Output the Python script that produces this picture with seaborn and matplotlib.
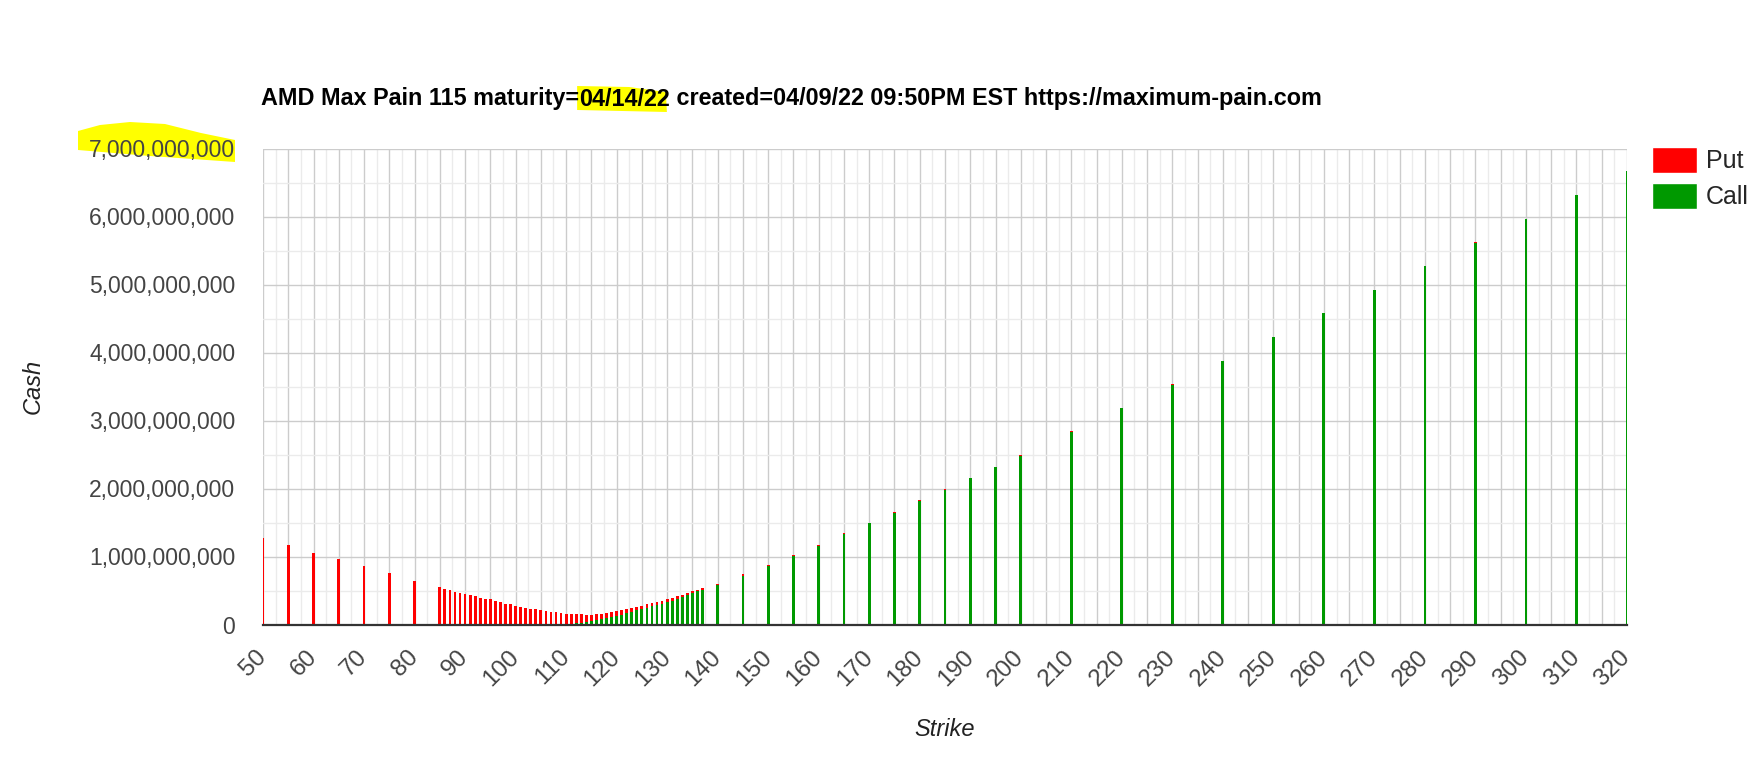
import pandas as pd
import matplotlib
matplotlib.use('Agg')
import matplotlib.pyplot as plt
import seaborn as sns
from matplotlib.ticker import MultipleLocator, FuncFormatter
from matplotlib.patches import Patch, Polygon

# strike prices
strikes = [50, 55, 60, 65, 70, 75, 80,
           85, 86, 87, 88, 89, 90, 91, 92, 93, 94, 95, 96, 97, 98, 99,
           100, 101, 102, 103, 104, 105, 106, 107, 108, 109, 110, 111, 112, 113, 114,
           115, 116, 117, 118, 119, 120, 121, 122, 123, 124, 125, 126, 127, 128, 129,
           130, 131, 132, 133, 134, 135, 136, 137, 140,
           145, 150, 155, 160, 165, 170, 175, 180, 185, 190, 195, 200,
           210, 220, 230, 240, 250, 260, 270, 280, 290, 300, 310, 320]

# put cash, in billions
put_bn = [1.265, 1.175, 1.057, 0.963, 0.856, 0.758, 0.646,
          0.548, 0.529, 0.506, 0.485, 0.462, 0.452, 0.436, 0.413, 0.393, 0.376, 0.370, 0.345, 0.325, 0.302, 0.295,
          0.279, 0.258, 0.250, 0.232, 0.226, 0.208, 0.201, 0.182, 0.174, 0.155, 0.150, 0.146, 0.142, 0.136, 0.106,
          0.084, 0.083, 0.076, 0.070, 0.068, 0.067, 0.066, 0.064, 0.057, 0.050, 0.049, 0.048, 0.046, 0.045, 0.044,
          0.042, 0.040, 0.036, 0.031, 0.026, 0.023, 0.023, 0.022, 0.021,
          0.020, 0.019, 0.017, 0.016, 0.015, 0.014, 0.013, 0.012, 0.011, 0.010, 0.009, 0.009,
          0.008, 0.008, 0.007, 0.007, 0.006, 0.006, 0.005, 0.005, 0.004, 0.004, 0.003, 0.003]

# call cash, in billions
call_bn = [0, 0, 0, 0, 0, 0, 0,
           0, 0, 0, 0, 0, 0, 0, 0, 0, 0, 0, 0, 0, 0, 0,
           0, 0, 0, 0, 0, 0.003, 0.004, 0.006, 0.007, 0.009, 0.011, 0.014, 0.017, 0.022, 0.034,
           0.052, 0.066, 0.080, 0.094, 0.114, 0.127, 0.143, 0.164, 0.188, 0.207, 0.229, 0.250, 0.265, 0.285, 0.306,
           0.328, 0.350, 0.376, 0.406, 0.434, 0.464, 0.487, 0.510, 0.581,
           0.719, 0.857, 1.011, 1.159, 1.335, 1.486, 1.647, 1.818, 1.979, 2.150, 2.311, 2.481,
           2.832, 3.182, 3.523, 3.873, 4.224, 4.574, 4.915, 5.265, 5.616, 5.966, 6.317, 6.667]

title_head = 'AMD Max Pain 115 maturity='
title_date = '04/14/22'
title_tail = ' created=04/09/22 09:50PM EST https://maximum-pain.com'

df = pd.DataFrame({'Strike': strikes,
                   'Put': [p * 1e9 for p in put_bn],
                   'Call': [c * 1e9 for c in call_bn]})
df['Total'] = df['Put'] + df['Call']

sns.set_style('white')
plt.rcParams['font.family'] = ['Liberation Sans', 'DejaVu Sans']

W, H = 1753, 764
fig = plt.figure(figsize=(W / 100, H / 100), dpi=100)
ax = fig.add_axes([263 / W, 1 - 624.5 / H, (1627 - 263) / W, (624.5 - 148.5) / H])

# stacked look: total in red, call in green over it
sns.barplot(data=df, x='Strike', y='Total', native_scale=True, width=0.55,
            color='#ff0000', saturation=1, errorbar=None, linewidth=0, ax=ax)
sns.barplot(data=df, x='Strike', y='Call', native_scale=True, width=0.55,
            color='#009900', saturation=1, errorbar=None, linewidth=0, ax=ax)

ax.set_xlim(50, 320)
ax.set_ylim(0, 7e9)

ax.xaxis.set_major_locator(MultipleLocator(5))
ax.xaxis.set_minor_locator(MultipleLocator(2.5))
ax.xaxis.set_major_formatter(FuncFormatter(lambda v, p: f'{v:.0f}' if round(v) % 10 == 0 else ''))
ax.yaxis.set_major_locator(MultipleLocator(1e9))
ax.yaxis.set_minor_locator(MultipleLocator(5e8))
ax.yaxis.set_major_formatter(FuncFormatter(lambda v, p: f'{v:,.0f}'))

ax.set_axisbelow(True)
ax.grid(which='major', color='#cccccc', linewidth=1.0)
ax.grid(which='minor', color='#ebebeb', linewidth=1.0)

for s in ['top', 'right', 'left']:
    ax.spines[s].set_visible(False)
ax.spines['bottom'].set_color('#333333')
ax.spines['bottom'].set_linewidth(1.6)
ax.spines['bottom'].set_zorder(5)

ax.tick_params(which='both', length=0)
ax.tick_params(axis='y', labelsize=16.5, labelcolor='#444444', pad=20)
ax.tick_params(axis='x', labelsize=17.5, labelcolor='#444444', pad=21)
for lab in ax.get_xticklabels():
    lab.set_rotation(45)
    lab.set_ha('right')
    lab.set_va('center')
    lab.set_rotation_mode('anchor')

ax.set_xlabel('')
ax.set_ylabel('')
fig.text(33 / W, 1 - 386 / H, 'Cash', rotation=90, style='italic', fontsize=17,
         color='#222222', ha='center', va='center')
fig.text(945 / W, 1 - 729 / H, 'Strike', style='italic', fontsize=17,
         color='#222222', ha='center', va='center')

# title, with the date highlighted as in the screenshot
tx, ty = 261, H - 99
t_kw = dict(fontsize=16.8, fontweight='bold', color='black', va='center', transform=None)
renderer = fig.canvas.get_renderer()
t_head = fig.text(tx, ty, title_head, **t_kw)
x_date = tx + t_head.get_window_extent(renderer).width
t_date = fig.text(x_date, ty, title_date, **t_kw)
x_tail = x_date + t_date.get_window_extent(renderer).width
fig.text(x_tail, ty, title_tail, **t_kw)

fig.patches.append(Polygon([(x_date - 2, H - 86), (x_date + 50, H - 87), (x_tail - 4, H - 92),
                            (x_tail - 3, H - 112), (x_date - 2, H - 110)],
                           closed=True, transform=None, facecolor='#ffff00', edgecolor='none',
                           zorder=-1, figure=fig))
fig.patches.append(Polygon([(78, H - 131), (100, H - 125), (130, H - 122), (165, H - 124), (201, H - 133),
                            (235, H - 140), (235, H - 162), (150, H - 156), (78, H - 150)],
                           closed=True, transform=None, facecolor='#ffff00', edgecolor='none',
                           zorder=-1, figure=fig))

handles = [Patch(facecolor='#ff0000', label='Put'), Patch(facecolor='#009900', label='Call')]
fig.legend(handles=handles, loc='upper left', bbox_to_anchor=(1652 / W, 1 - 147 / H),
           frameon=False, fontsize=18, handlelength=1.8, handleheight=1.2,
           handletextpad=0.35, labelspacing=0.4, borderaxespad=0, borderpad=0)

fig.savefig('out.png', dpi=100)
